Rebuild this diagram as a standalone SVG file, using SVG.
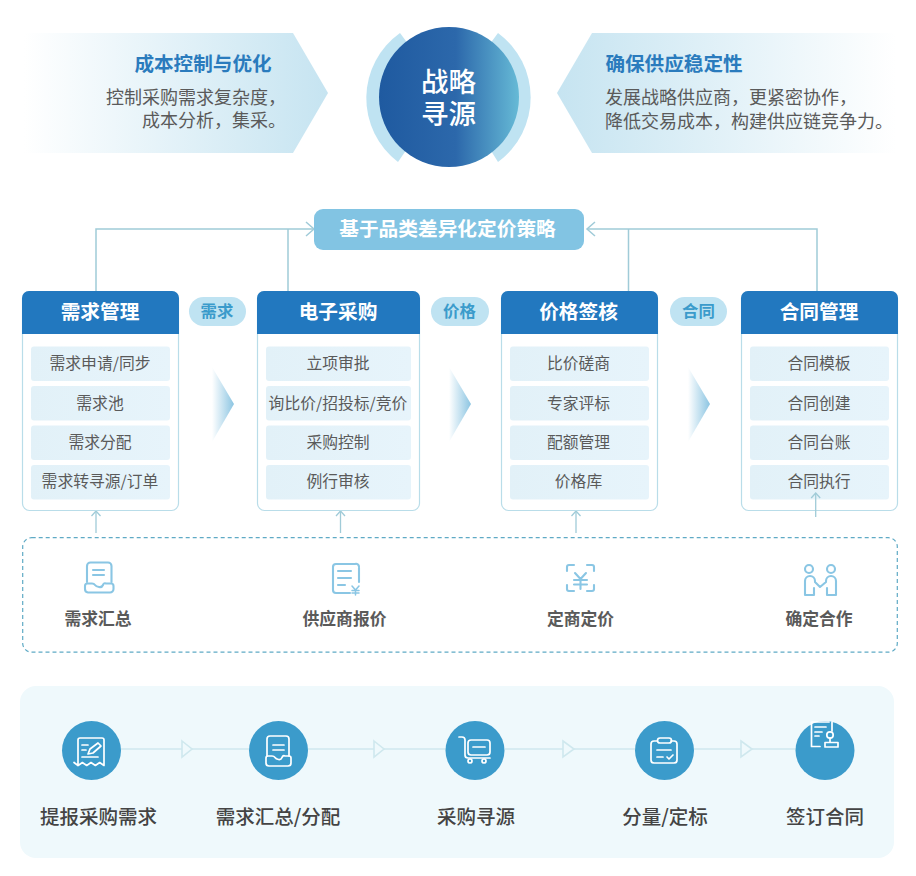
<svg xmlns="http://www.w3.org/2000/svg" width="916" height="876" viewBox="0 0 916 876">
<style>
text{font-family:"Noto Sans CJK SC","Noto Sans",sans-serif;text-anchor:middle}
.bt{font-size:19.6px;font-weight:700;fill:#2a7bbd}
.bb{font-size:18px;fill:#5a5a5a;text-anchor:start}
.c{font-size:27.5px;font-weight:500;fill:#fff}
.h{font-size:19.7px;font-weight:700;fill:#fff}
.i{font-size:15.8px;fill:#5a5a5a}
.p{font-size:16.4px;font-weight:700;fill:#3b9bcb}
.card{fill:#fff;stroke:#b9dde9;stroke-width:1.2}
.head{fill:#2278bf}
.item{fill:url(#it)}
.pill{fill:#bfe3f2}
.ln{fill:none;stroke:#a0cbd8;stroke-width:1.5}
.ic{fill:none;stroke:#8ac6e4;stroke-width:2.1;stroke-linecap:round;stroke-linejoin:round}
.l{font-size:16.8px;font-weight:700;fill:#5a5a5a}
.s{font-size:19.5px;font-weight:500;fill:#444}
.dot{fill:#3b9bcb}
.w{fill:none;stroke:#fff;stroke-width:1.7;stroke-linecap:round;stroke-linejoin:round}
.flow{fill:none;stroke:#cfe8ee;stroke-width:1.6}
.tri{fill:#eff9fc;stroke:#cfe8ee;stroke-width:1.6}
</style>
<defs>
<linearGradient id="gl" x1="0" x2="1" y1="0" y2="0"><stop offset="0" stop-color="#fff"/><stop offset="1" stop-color="#c6e4f1"/></linearGradient>
<linearGradient id="gr" x1="0" x2="1" y1="0" y2="0"><stop offset="0" stop-color="#c6e4f1"/><stop offset="1" stop-color="#fff"/></linearGradient>
<linearGradient id="gc" x1="0" x2="1" y1="0" y2="0"><stop offset="0" stop-color="#1f5aa0"/><stop offset=".55" stop-color="#2c68ab"/><stop offset="1" stop-color="#66bad6"/></linearGradient>
<linearGradient id="ch" x1="0" x2="1" y1="0" y2="0"><stop offset="0" stop-color="#fff"/><stop offset="1" stop-color="#8cc5e2"/></linearGradient>
<linearGradient id="it" x1="0" x2="1" y1="0" y2="0"><stop offset="0" stop-color="#e2f1f8"/><stop offset="1" stop-color="#e7f4fb"/></linearGradient>
<path id="up" d="M-4.500 5L0 0L4.500 5" fill="none" stroke="#a0cbd8" stroke-width="1.300"/>
</defs>

<g id="banner-left">
<polygon points="24,33 293,33 328,93 293,153 24,153" fill="url(#gl)"/>
<text class="bt" x="203" y="71">成本控制与优化</text>
<text class="bb"><tspan x="106" y="104">控制采购需求复杂度，</tspan><tspan x="142" y="127">成本分析，集采。</tspan></text>
</g>
<g id="center">
<path d="M400 33A80 80 0 0 0 398 162L420 130V60Z" fill="#bfe3f2"/>
<path d="M498 33A80 80 0 0 1 498 162L478 130V60Z" fill="#bfe3f2"/>
<circle cx="449" cy="97" r="70" fill="url(#gc)"/>
<text class="c"><tspan x="448.500" y="92">战略</tspan><tspan x="448.500" y="124">寻源</tspan></text>
</g>
<g id="banner-right">
<polygon points="557,93 592,33 896,33 896,153 592,153" fill="url(#gr)"/>
<text class="bt" x="674" y="71">确保供应稳定性</text>
<text class="bb"><tspan x="605" y="104">发展战略供应商，更紧密协作，</tspan><tspan x="605" y="128">降低交易成本，构建供应链竞争力。</tspan></text>
</g>

<g id="connectors">
<path class="ln" d="M96 291V229H314M288 291V229"/>
<path class="ln" d="M306 222L314 229L306 236"/>
<path class="ln" d="M817 291V229H587M628.500 291V229"/>
<path class="ln" d="M595 222L587 229L595 236"/>
<g class="ln" style="stroke-width:1.3">
<path d="M96 533V511"/><path d="M340.500 533V511"/><path d="M576 533V511"/>
</g>
<use href="#up" x="96" y="511"/><use href="#up" x="340.500" y="511"/><use href="#up" x="576" y="511"/>
</g>

<g id="strategy">
<rect x="314" y="209" width="270" height="41" rx="9" fill="#82c4e3"/>
<text x="447.500" y="236" style="font-size:19.7px;font-weight:700;fill:#fff">基于品类差异化定价策略</text>
</g>

<g id="card-demand">
<rect class="card" x="22.500" y="291.500" width="156" height="219" rx="7"/>
<path class="head" d="M22 334V298a7 7 0 0 1 7-7H172a7 7 0 0 1 7 7V334Z"/>
<text class="h" x="100" y="319">需求管理</text>
<rect class="item" x="31" y="346.500" width="139" height="34.500" rx="3"/><text class="i" x="100" y="369">需求申请/同步</text>
<rect class="item" x="31" y="386" width="139" height="34.500" rx="3"/><text class="i" x="100" y="409">需求池</text>
<rect class="item" x="31" y="425.500" width="139" height="34.500" rx="3"/><text class="i" x="100" y="448">需求分配</text>
<rect class="item" x="31" y="465" width="139" height="34.500" rx="3"/><text class="i" x="100" y="487">需求转寻源/订单</text>
</g>
<g id="card-eprocure">
<rect class="card" x="257.500" y="291.500" width="162" height="219" rx="7"/>
<path class="head" d="M257 334V298a7 7 0 0 1 7-7H413a7 7 0 0 1 7 7V334Z"/>
<text class="h" x="338" y="319">电子采购</text>
<rect class="item" x="266" y="346.500" width="145" height="34.500" rx="3"/><text class="i" x="338" y="369">立项审批</text>
<rect class="item" x="266" y="386" width="145" height="34.500" rx="3"/><text class="i" x="338" y="409">询比价/招投标/竞价</text>
<rect class="item" x="266" y="425.500" width="145" height="34.500" rx="3"/><text class="i" x="338" y="448">采购控制</text>
<rect class="item" x="266" y="465" width="145" height="34.500" rx="3"/><text class="i" x="338" y="487">例行审核</text>
</g>
<g id="card-price">
<rect class="card" x="501.500" y="291.500" width="156" height="219" rx="7"/>
<path class="head" d="M501 334V298a7 7 0 0 1 7-7H651a7 7 0 0 1 7 7V334Z"/>
<text class="h" x="578.500" y="319">价格签核</text>
<rect class="item" x="510" y="346.500" width="139" height="34.500" rx="3"/><text class="i" x="578.500" y="369">比价磋商</text>
<rect class="item" x="510" y="386" width="139" height="34.500" rx="3"/><text class="i" x="578.500" y="409">专家评标</text>
<rect class="item" x="510" y="425.500" width="139" height="34.500" rx="3"/><text class="i" x="578.500" y="448">配额管理</text>
<rect class="item" x="510" y="465" width="139" height="34.500" rx="3"/><text class="i" x="578.500" y="487">价格库</text>
</g>
<g id="card-contract">
<rect class="card" x="741.500" y="291.500" width="156" height="219" rx="7"/>
<path class="head" d="M741 334V298a7 7 0 0 1 7-7H891a7 7 0 0 1 7 7V334Z"/>
<text class="h" x="819" y="319">合同管理</text>
<rect class="item" x="750" y="346.500" width="139" height="34.500" rx="3"/><text class="i" x="819" y="369">合同模板</text>
<rect class="item" x="750" y="386" width="139" height="34.500" rx="3"/><text class="i" x="819" y="409">合同创建</text>
<rect class="item" x="750" y="425.500" width="139" height="34.500" rx="3"/><text class="i" x="819" y="448">合同台账</text>
<rect class="item" x="750" y="465" width="139" height="34.500" rx="3"/><text class="i" x="819" y="487">合同执行</text>
<path d="M815.700 517V493" fill="none" stroke="#a0cbd8" stroke-width="1.300"/><use href="#up" x="815.700" y="493"/>
</g>

<g id="tag-demand"><rect class="pill" x="189" y="297" width="57" height="29" rx="14.500"/><text class="p" x="217" y="317">需求</text></g>
<g id="tag-price"><rect class="pill" x="431" y="297" width="58" height="29" rx="14.500"/><text class="p" x="459.500" y="317">价格</text></g>
<g id="tag-contract"><rect class="pill" x="670" y="297" width="57" height="29" rx="14.500"/><text class="p" x="698.500" y="317">合同</text></g>

<g id="chevrons">
<polygon points="212,367 234,404 212,442" fill="url(#ch)"/>
<polygon points="449,367 471,404 449,442" fill="url(#ch)"/>
<polygon points="688,367 710,404 688,442" fill="url(#ch)"/>
</g>

<g id="outcomes">
<rect x="22.700" y="537.700" width="874.600" height="114.500" rx="9" fill="none" stroke="#5faac5" stroke-width="1.200" stroke-dasharray="4 3"/>
</g>
<g id="out-demand">
<path class="ic" d="M87 582V566a3.500 3.500 0 0 1 3.500-3.500H108a3.500 3.500 0 0 1 3.500 3.500V582"/>
<path class="ic" d="M85 586a2.500 2.500 0 0 1 2.500-2.500H92q2 0 3 1.500t4 2t4-2t3-1.500H111a2.500 2.500 0 0 1 2.500 2.500V589a3.500 3.500 0 0 1-3.500 3.500H88a3.500 3.500 0 0 1-3-3.500Z"/>
<path class="ic" d="M93 570H104M93 575H104"/>
<text class="l" x="98" y="625">需求汇总</text>
</g>
<g id="out-quote">
<path class="ic" d="M355 564H336a3 3 0 0 0-3 3V590a3 3 0 0 0 3 3H350M359 568V582M359 567a3 3 0 0 0-4-3"/>
<path class="ic" d="M338 571H351M338 578H351M338 585H345"/>
<path class="ic" style="stroke-width:1.500" d="M352 586L355.500 590L359 586M352 590.500H359M352 593H359M355.500 590V595"/>
<text class="l" x="344.500" y="625">供应商报价</text>
</g>
<g id="out-price">
<path class="ic" d="M567 571V567a2 2 0 0 1 2-2H574M587 565H592a2 2 0 0 1 2 2V571M594 585V589a2 2 0 0 1-2 2H587M574 591H569a2 2 0 0 1-2-2V585"/>
<path class="ic" d="M575 573L580.500 579L586 573M574 580H587M574 584.500H587M580.500 579V589"/>
<text class="l" x="580.500" y="625">定商定价</text>
</g>
<g id="out-deal">
<circle class="ic" cx="809" cy="569" r="4"/><circle class="ic" cx="831" cy="569" r="4"/>
<path class="ic" d="M805 595V581a5 5 0 0 1 10 0V582l5 5 6-5V581a5 5 0 0 1 10 0V595H827V588M805 595H814V588"/>
<text class="l" x="819" y="625">确定合作</text>
</g>

<g id="flow-panel"><rect x="20" y="686" width="874" height="172" rx="16" fill="#eff9fc"/></g>
<g id="flow-connectors">
<path class="flow" d="M121 749H182M192 749H249M308 749H374M384 749H446M505 749H563M574 749H635M694 749H741M752 749H796"/>
<polygon class="tri" points="182,741 192,749 182,757"/>
<polygon class="tri" points="374,741 384,749 374,757"/>
<polygon class="tri" points="563,741 574,749 563,757"/>
<polygon class="tri" points="741,741 752,749 741,757"/>
</g>
<g id="step-1">
<circle class="dot" cx="91.500" cy="750.500" r="29.500"/>
<path class="w" d="M78 765.500V740a2 2 0 0 1 2-2H102a2 2 0 0 1 2 2V765.500l-4.300-3-4.300 3-4.400-3-4.300 3-4.300-3-4.300 3-4.100-3Z"/>
<path class="w" d="M82 745H88M82 750H86M82 757H98M88 754L90 749L98 743L101 746L93 753Z"/>
<text class="s" x="98.500" y="824">提报采购需求</text>
</g>
<g id="step-2">
<circle class="dot" cx="278.500" cy="750.500" r="29.500"/>
<path class="w" d="M267 756V739a3 3 0 0 1 3-3H286a3 3 0 0 1 3 3V756"/>
<path class="w" d="M266 758a2 2 0 0 1 2-2H272q2 0 3 1.500t3.500 2t3.500-2t3-1.500H289a2 2 0 0 1 2 2V763a3 3 0 0 1-3 3H269a3 3 0 0 1-3-3Z"/>
<path class="w" d="M273 745H284M273 750H284"/>
<text class="s" x="278" y="824">需求汇总/分配</text>
</g>
<g id="step-3">
<circle class="dot" cx="475" cy="750.500" r="29.500"/>
<path class="w" d="M459 737H462q3 0 3 3V755q0 3 3 3H490"/>
<rect class="w" x="468" y="740" width="22" height="15" rx="3"/>
<path class="w" d="M473 747H485"/>
<circle class="w" cx="470" cy="761" r="2"/><circle class="w" cx="484" cy="761" r="2"/>
<text class="s" x="476" y="824">采购寻源</text>
</g>
<g id="step-4">
<circle class="dot" cx="664.500" cy="750.500" r="29.500"/>
<path class="w" d="M657 741H654a3 3 0 0 0-3 3V760a3 3 0 0 0 3 3H674a3 3 0 0 0 3-3V744a3 3 0 0 0-3-3H671"/>
<rect class="w" x="657.500" y="738" width="14" height="5" rx="2.500"/>
<path class="w" d="M657 750H671M657 757H663M667 757L669 759L673 755"/>
<text class="s" x="665" y="824">分量/定标</text>
</g>
<g id="step-5">
<circle class="dot" cx="825" cy="750.500" r="29.500"/>
<path class="w" d="M811.500 722V746.500H820M811.500 722H829M832 722V731"/>
<path class="w" d="M815 727H826M815 732H822M815 736H819"/>
<circle class="w" cx="830" cy="735" r="3.200"/>
<path class="w" d="M830 738V742M825 747V742.500H838V747Z"/>
<text class="s" x="825" y="824">签订合同</text>
</g>
</svg>
